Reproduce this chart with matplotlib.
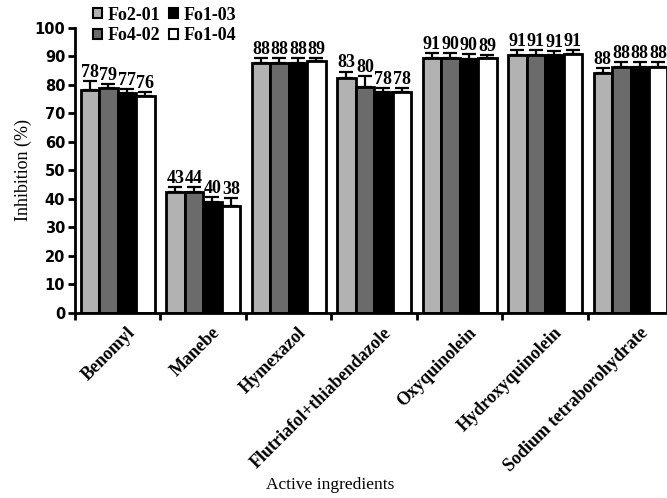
import numpy as np
import matplotlib
matplotlib.use("Agg")
import matplotlib.pyplot as plt

categories = ["Benomyl", "Manebe", "Hymexazol", "Flutriafol+thiabendazole",
              "Oxyquinolein", "Hydroxyquinolein", "Sodium tetraborohydrate"]
strains = ["Fo2-01", "Fo4-02", "Fo1-03", "Fo1-04"]
colors = ["#b2b2b2", "#6b6b6b", "#000000", "#ffffff"]

# bar heights (means) per strain, one entry per active ingredient
means = {
    "Fo2-01": [78.2, 42.5, 87.7, 82.4, 89.5, 90.5, 84.2],
    "Fo4-02": [79.0, 42.5, 87.7, 79.3, 89.5, 90.5, 86.3],
    "Fo1-03": [77.2, 38.9, 87.7, 77.5, 89.0, 90.5, 86.3],
    "Fo1-04": [76.1, 37.6, 88.4, 77.5, 89.5, 90.7, 86.3],
}
errors = {
    "Fo2-01": [3.2, 1.7, 1.8, 2.3, 1.7, 1.8, 1.8],
    "Fo4-02": [1.2, 1.7, 1.8, 3.8, 1.7, 1.8, 1.7],
    "Fo1-03": [1.4, 1.8, 1.8, 1.5, 1.7, 1.3, 1.7],
    "Fo1-04": [1.4, 2.6, 1.0, 1.5, 1.0, 1.5, 1.7],
}
labels = {
    "Fo2-01": ["78", "43", "88", "83", "91", "91", "88"],
    "Fo4-02": ["79", "44", "88", "80", "90", "91", "88"],
    "Fo1-03": ["77", "40", "88", "78", "90", "91", "88"],
    "Fo1-04": ["76", "38", "89", "78", "89", "91", "88"],
}

serif = "Liberation Serif"
sans = "DejaVu Sans"

fig = plt.figure(figsize=(6.67, 4.98), dpi=100)
ax = fig.add_axes([0.1124, 0.3715, 0.897, 0.5723])

x = np.arange(len(categories)) + 0.5
w = 0.216
for k, s in enumerate(strains):
    xs = x + (k - 1.5) * w
    ax.bar(xs, means[s], width=w, color=colors[k], edgecolor="black",
           linewidth=2, label=s, zorder=2)
    ax.errorbar(xs, means[s], yerr=[np.zeros(len(xs)), errors[s]], fmt="none",
                ecolor="black", elinewidth=1.6, capsize=5, capthick=1.6, zorder=1)
    for xi, m, e, t in zip(xs, means[s], errors[s], labels[s]):
        ax.text(xi, m + e + 0.1, t, ha="center", va="bottom", fontsize=13,
                fontfamily=serif, fontweight="bold")

ax.set_xlim(0, len(categories))
ax.set_ylim(0, 100)
ax.set_yticks(np.arange(0, 101, 10))
ax.set_xticks(np.arange(len(categories) + 1))
ax.set_xticklabels([])
for xi, c in zip(x, categories):
    ax.text(xi + 0.1, -4.0, c, rotation=45, ha="right", va="top",
            rotation_mode="anchor", fontsize=13, fontfamily=serif,
            fontweight="bold")

for lab in ax.get_yticklabels():
    lab.set_fontfamily(sans)
    lab.set_fontweight("bold")
    lab.set_fontsize(10.5)

ax.spines["top"].set_visible(False)
ax.spines["right"].set_visible(False)
ax.spines["left"].set_linewidth(2)
ax.spines["bottom"].set_linewidth(2)
ax.tick_params(axis="both", direction="out", length=5, width=2, pad=2)

ax.set_ylabel("Inhibition (%)", fontfamily=serif, fontsize=13, labelpad=2)
fig.text(0.495, 0.027, "Active ingredients", ha="center", va="center",
         fontfamily=serif, fontsize=12.5)

leg = ax.legend(ncol=2, loc="upper left", bbox_to_anchor=(0.03, 1.075), frameon=False,
                prop={"family": serif, "weight": "bold", "size": 13},
                handlelength=0.5, handleheight=0.5, handletextpad=0.3,
                columnspacing=0.5, labelspacing=0.2, borderaxespad=0, borderpad=0)
for h in leg.legend_handles:
    h.set_linewidth(1.5)

fig.savefig("out.png", dpi=100)
